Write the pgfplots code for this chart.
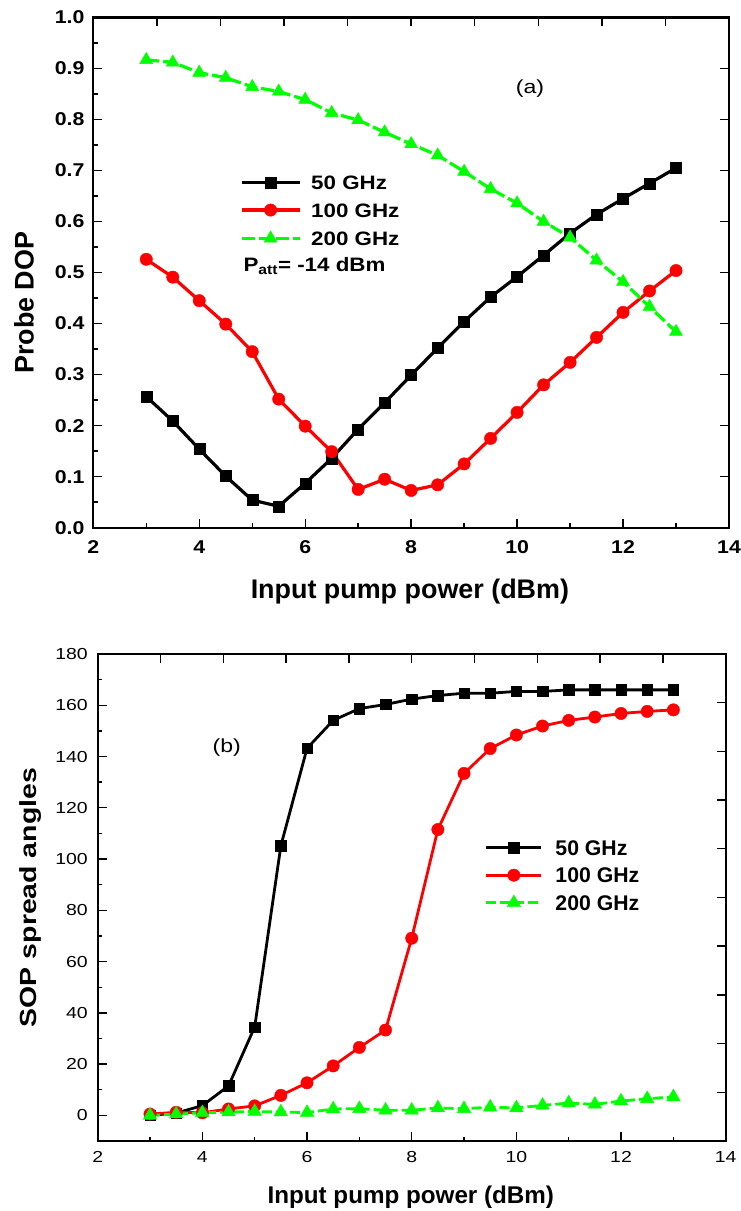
\documentclass[border=0pt]{standalone}
\usepackage{fontspec}
\setmainfont{Liberation Sans}
\newfontfamily\wideA{Liberation Sans}[FakeStretch=1.15]
\newfontfamily\wideB{Liberation Sans}[FakeStretch=1.22]
\usepackage{pgfplots}
\usepackage{pgfplotstable}
\pgfplotsset{compat=1.18}
\definecolor{lime}{RGB}{0,255,0}

\pgfplotstableread{
x    a      b      c
3    0.257  0.526  0.917
3.5  0.209  0.491  0.912
4    0.154  0.445  0.892
4.5  0.101  0.399  0.882
5    0.054  0.345  0.864
5.5  0.042  0.252  0.855
6    0.087  0.199  0.839
6.5  0.136  0.149  0.813
7    0.193  0.075  0.799
7.5  0.245  0.095  0.775
8    0.299  0.073  0.752
8.5  0.352  0.084  0.730
9    0.404  0.125  0.698
9.5  0.452  0.175  0.664
10   0.492  0.226  0.636
10.5 0.534  0.280  0.600
11   0.577  0.324  0.569
11.5 0.614  0.373  0.524
12   0.645  0.422  0.482
12.5 0.675  0.464  0.433
13   0.705  0.504  0.384
}\dopdata

\pgfplotstableread{
x    a      b      c
3    0.0    0.5    0.0
3.5  0.9    1.2    0.5
4    3.8    1.0    1.0
4.5  11.5   2.5    1.3
5    34.5   3.7    1.5
5.5  105.2  7.8    1.3
6    143.2  12.7   1.1
6.5  154.1  19.3   2.5
7    158.7  26.5   2.6
7.5  160.3  33.3   2.0
8    162.4  69.1   2.0
8.5  163.8  111.5  2.9
9    164.7  133.4  2.6
9.5  164.7  143.1  3.2
10   165.4  148.4  2.9
10.5 165.4  151.9  3.9
11   166.0  154.1  4.8
11.5 166.0  155.4  4.3
12   166.0  156.8  5.6
12.5 166.0  157.6  6.5
13   166.0  158.2  7.2
}\sopdata

\pgfplotsset{
  common/.style={
    scale only axis,
    xmin=2, xmax=14,
    tick align=inside,
    major tick length=9bp, minor tick length=4.5bp,
    every tick/.style={line width=1.4bp, black},
    axis line style={line width=2.1bp},
    /pgf/number format/assume math mode=true,
    clip=false,
  },
}

\begin{document}
\begin{tikzpicture}
% ---------------- top panel (a) ----------------
\begin{axis}[common,
  at={(93.3bp,683.3bp)}, anchor=south west,
  width=635.7bp, height=510.2bp,
  ymin=0, ymax=1,
  xtick={2,4,6,8,10,12,14},
  ytick={0,0.1,0.2,0.3,0.4,0.5,0.6,0.7,0.8,0.9,1.0},
  minor x tick num=1, minor y tick num=1,
  tick pos=left,
  tick label style={font=\wideA\bfseries\fontsize{18.6}{18.6}\selectfont},
  xticklabel style={yshift=-9.4bp},
  yticklabel style={xshift=-5.4bp, /pgf/number format/.cd, fixed, fixed zerofill, precision=1},
  xlabel={Input pump power (dBm)},
  xlabel style={at={(axis description cs:0.498,-0.138)}, anchor=base, font=\bfseries\fontsize{27}{27}\selectfont},
  ylabel={Probe DOP},
  ylabel style={at={(axis description cs:-0.109,0.441)}, anchor=center, font=\bfseries\fontsize{27}{27}\selectfont},
  legend style={at={(axis description cs:0.2308,0.6907)}, anchor=north west, draw=none, fill=none,
    inner sep=0pt, outer sep=0pt, row sep=13.8bp, column sep=10bp,
    font=\wideA\bfseries\fontsize{19.5}{19.5}\selectfont,
    nodes={inner sep=0pt, text height=14bp, text depth=0pt}},
  legend cell align=left,
  legend image code/.code={\draw[#1, mark repeat=2, mark phase=2] plot coordinates {(0bp,0bp) (29bp,0bp) (58bp,0bp)};},
]
\addplot[black, line width=3.2bp, mark=square*, mark size=5.5bp, mark options={solid, line width=0.4bp}] table[x=x,y=a]{\dopdata};
\addlegendentry{50 GHz}
\addplot[red, line width=3.2bp, mark=*, mark size=6.2bp, mark options={solid, line width=0.4bp}] table[x=x,y=b]{\dopdata};
\addlegendentry{100 GHz}
\addplot[lime, line width=3.2bp, dash pattern=on 13bp off 4bp, mark=triangle*, mark size=7.5bp, mark options={solid, line width=0.4bp}] table[x=x,y=c]{\dopdata};
\addlegendentry{200 GHz}
\node[anchor=base west, inner sep=0pt, font=\wideA\bfseries\fontsize{19.5}{19.5}\selectfont] at (axis description cs:0.236,0.5018) {P\textsubscript{att}= -14 dBm};
\node[inner sep=0pt, font=\wideB\fontsize{19}{19}\selectfont] at (axis description cs:0.687,0.86) {(a)};
\end{axis}
\begin{axis}[common,
  at={(93.3bp,683.3bp)}, anchor=south west,
  width=635.7bp, height=510.2bp,
  ymin=0, ymax=1,
  tick pos=right,
  xtick={2,3.2,4.4,5.6,6.8,8,9.2,10.4,11.6,12.8,14},
  ytick={0,0.1,0.2,0.3,0.4,0.5,0.6,0.7,0.8,0.9,1.0},
  xticklabels={}, yticklabels={},
]
\end{axis}
% ---------------- bottom panel (b) ----------------
\begin{axis}[common,
  at={(97.7bp,70bp)}, anchor=south west,
  width=628bp, height=487bp,
  ymin=-10, ymax=180,
  xtick={2,4,6,8,10,12,14},
  ytick={0,20,40,60,80,100,120,140,160,180},
  minor x tick num=1, minor y tick num=1,
  tick pos=left,
  tick label style={font=\wideB\fontsize{16}{16}\selectfont},
  xticklabel style={yshift=-7bp},
  yticklabel style={xshift=-6.4bp},
  xlabel={Input pump power (dBm)},
  xlabel style={at={(axis description cs:0.4986,-0.128)}, anchor=base, font=\bfseries\fontsize{24.3}{24.3}\selectfont},
  ylabel={SOP spread angles},
  ylabel style={at={(axis description cs:-0.1065,0.5)}, anchor=center, font=\wideB\bfseries\fontsize{23.4}{23.4}\selectfont},
  legend style={at={(axis description cs:0.6167,0.618)}, anchor=north west, draw=none, fill=none,
    inner sep=0pt, outer sep=0pt, row sep=12.2bp, column sep=12.7bp,
    font=\bfseries\fontsize{21.3}{21.3}\selectfont,
    nodes={inner sep=0pt, text height=15.3bp, text depth=0pt}},
  legend cell align=left,
  legend image code/.code={\draw[#1, mark repeat=2, mark phase=2] plot coordinates {(0bp,0bp) (27.5bp,0bp) (55bp,0bp)};},
]
\addplot[black, line width=2.8bp, mark=square*, mark size=5.2bp, mark options={solid, line width=0.4bp}] table[x=x,y=a]{\sopdata};
\addlegendentry{50 GHz}
\addplot[red, line width=2.8bp, mark=*, mark size=6.2bp, mark options={solid, line width=0.4bp}] table[x=x,y=b]{\sopdata};
\addlegendentry{100 GHz}
\addplot[lime, line width=2.8bp, dash pattern=on 10bp off 4bp, mark=triangle*, mark size=7.8bp, mark options={solid, line width=0.4bp}] table[x=x,y=c]{\sopdata};
\addlegendentry{200 GHz}
\node[inner sep=0pt, font=\wideB\fontsize{19}{19}\selectfont] at (axis description cs:0.2054,0.808) {(b)};
\end{axis}
\begin{axis}[common,
  at={(97.7bp,70bp)}, anchor=south west,
  width=628bp, height=487bp,
  ymin=-10, ymax=180,
  tick pos=right,
  xtick={2,3.2,4.4,5.6,6.8,8,9.2,10.4,11.6,12.8,14},
  ytick={-10,9,28,47,66,85,104,123,142,161,180},
  xticklabels={}, yticklabels={},
]
\end{axis}
\pgfresetboundingbox
\useasboundingbox (0,0) rectangle (741bp,1211bp);
\end{tikzpicture}
\end{document}
